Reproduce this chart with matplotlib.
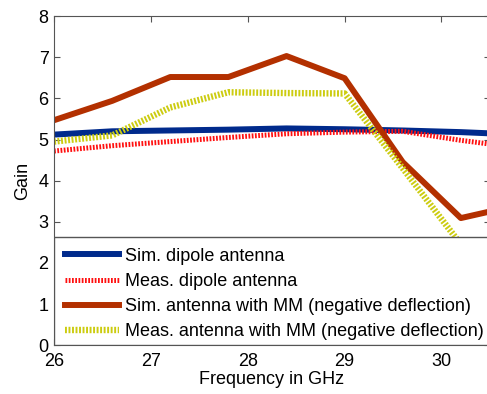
import matplotlib
matplotlib.use("Agg")
import matplotlib.pyplot as plt
from matplotlib.patches import Rectangle

plt.rcParams['font.family'] = ['Liberation Sans', 'DejaVu Sans']

freq = [26.0, 26.6, 27.2, 27.8, 28.4, 29.0, 29.6, 30.2, 30.8]
sim_dipole = [5.12, 5.2, 5.22, 5.24, 5.27, 5.25, 5.22, 5.18, 5.12]
meas_dipole = [4.72, 4.85, 4.95, 5.05, 5.14, 5.18, 5.2, 4.98, 4.8]
sim_mm = [5.47, 5.94, 6.52, 6.52, 7.03, 6.49, 4.45, 3.09, 3.41]
meas_mm = [4.95, 5.1, 5.78, 6.15, 6.13, 6.12, 4.3, 2.45, 2.0]

labels = ["Sim. dipole antenna", "Meas. dipole antenna",
          "Sim. antenna with MM (negative deflection)",
          "Meas. antenna with MM (negative deflection)"]
legend_top = 2.63  # gain value where the legend box ends

fig = plt.figure(figsize=(4.87, 3.94), dpi=100)
ax = fig.add_axes([0.111, 0.124, 0.895, 0.835])

ax.plot(freq, sim_dipole, color='#002a8c', lw=4.3, label=labels[0])
ax.plot(freq, meas_dipole, color='#ff1010', lw=3.6, ls=(0, (0.35, 0.3)), label=labels[1])
ax.plot(freq, sim_mm, color='#b33000', lw=4.3, label=labels[2])
ax.plot(freq, meas_mm, color='#cccc10', lw=4.6, ls=(0, (0.3, 0.25)), label=labels[3])

ax.set_xlim(26, 30.5)
ax.set_ylim(0, 8)
ax.set_xticks([26, 27, 28, 29, 30])
ax.set_yticks(range(0, 9))
ax.tick_params(direction='in', length=4, top=True, right=True, labelsize=13,
               color='#555555')
ax.tick_params(axis='x', pad=5.5)
ax.tick_params(axis='y', pad=4)
for s in ax.spines.values():
    s.set_color('#555555')
ax.spines['right'].set_visible(False)

ax.set_xlabel("Frequency in GHz", fontsize=13, labelpad=1)
ax.set_ylabel("Gain", fontsize=13, labelpad=5)

# legend box (white, covers the lower part of the plot)
ax.add_patch(Rectangle((26, 0), 5, legend_top, facecolor='white',
                       edgecolor='#555555', lw=1.0, zorder=3, clip_on=True))
leg = ax.legend(loc='upper left', bbox_to_anchor=(0.025, 0.296),
                borderaxespad=0, borderpad=0, fontsize=13, handlelength=3.0,
                handletextpad=0.35, labelspacing=0.45, frameon=False)
leg.set_zorder(5)

fig.savefig("out.png", dpi=100)
